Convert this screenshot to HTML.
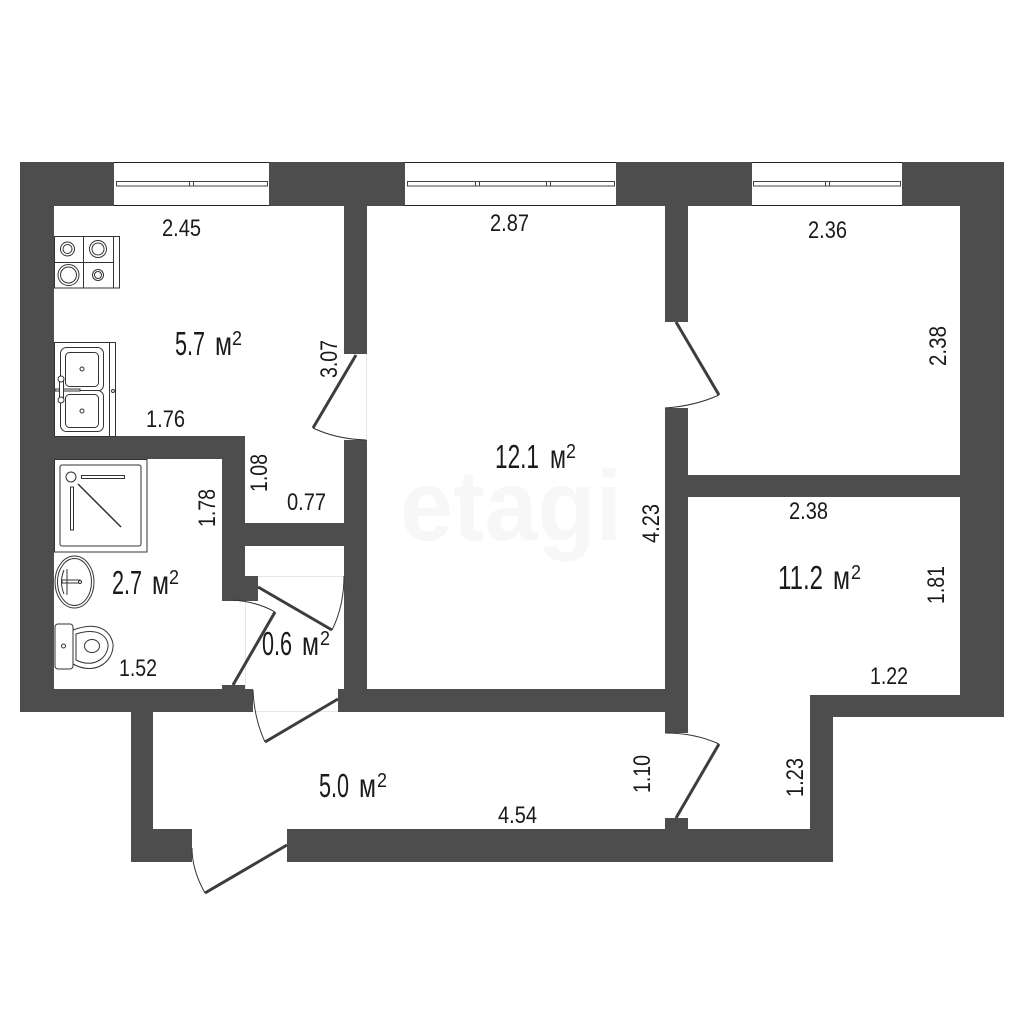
<!DOCTYPE html>
<html>
<head>
<meta charset="utf-8">
<style>
html,body{margin:0;padding:0;background:#fff;width:1024px;height:1024px;overflow:hidden}
svg{display:block}
text{font-family:"Liberation Sans Narrow","Liberation Sans",sans-serif;fill:#1a1a1a}
.s{font-size:24px}
.b{font-size:33px}
.u{font-size:20px}
</style>
</head>
<body>
<svg width="1024" height="1024" viewBox="0 0 1024 1024" xmlns="http://www.w3.org/2000/svg">
<rect width="1024" height="1024" fill="#fff"/>

<!-- watermark -->
<text x="400" y="540" style="font-family:'Liberation Sans',sans-serif;font-weight:bold;font-size:100px;fill:#f7f7f7" textLength="222" lengthAdjust="spacingAndGlyphs">etagi</text>

<!-- faint guides -->
<g stroke="#e6e6e6" stroke-width="1" fill="none">
<path d="M366.500 354V440M245.500 576V690M245 576.500H344M253 711.500H338"/>
</g>

<!-- walls -->
<g fill="#4d4d4d">
<rect x="20" y="162" width="94" height="44"/>
<rect x="269" y="162" width="136" height="44"/>
<rect x="616" y="162" width="136" height="44"/>
<rect x="902" y="162" width="102" height="44"/>
<rect x="20" y="162" width="34" height="550"/>
<rect x="960" y="162" width="44" height="555"/>
<rect x="810" y="695" width="194" height="22"/>
<rect x="810" y="695" width="23" height="167"/>
<rect x="287" y="829" width="546" height="33"/>
<rect x="665" y="818" width="23" height="12"/>
<rect x="665" y="206" width="23" height="116"/>
<rect x="665" y="408" width="23" height="325"/>
<rect x="688" y="475" width="272" height="22"/>
<rect x="338" y="689" width="327" height="23"/>
<rect x="344" y="206" width="23" height="148"/>
<rect x="344" y="440" width="23" height="272"/>
<rect x="54" y="436" width="191" height="23"/>
<rect x="222" y="436" width="23" height="165"/>
<rect x="222" y="576" width="36" height="25"/>
<rect x="245" y="523" width="99" height="23"/>
<rect x="20" y="689" width="233" height="23"/>
<rect x="222" y="685" width="23" height="5"/>
<rect x="131" y="712" width="22" height="150"/>
<rect x="131" y="829" width="61" height="33"/>
</g>

<!-- windows -->
<g fill="none" stroke="#222" stroke-width="1">
<path d="M114 162.500H269M114 205.500H269"/>
<path d="M405 162.500H616M405 205.500H616"/>
<path d="M752 162.500H902M752 205.500H902"/>
</g>
<g fill="#fff" stroke="#444" stroke-width="1">
<rect x="116.500" y="181.500" width="151" height="4.500"/>
<rect x="189.500" y="181.500" width="4" height="4.500"/>
<rect x="407.500" y="181.500" width="207" height="4.500"/>
<rect x="475.500" y="181.500" width="4" height="4.500"/>
<rect x="546.500" y="181.500" width="4" height="4.500"/>
<rect x="753.500" y="181.500" width="147" height="4.500"/>
<rect x="825.500" y="181.500" width="4" height="4.500"/>
</g>

<!-- door leaves -->
<g stroke="#3d3d3d" stroke-width="3" fill="none" stroke-linecap="butt">
<path d="M356 355L313 428"/>
<path d="M676 322L719 395"/>
<path d="M233 685L275 612"/>
<path d="M258 587L332 630"/>
<path d="M338 699L265 742"/>
<path d="M287 845L205 893"/>
<path d="M676 818L719 744"/>
</g>
<!-- door arcs -->
<g stroke="#333" stroke-width="1" fill="none">
<path d="M313 428Q336 439 366 440"/>
<path d="M719 395Q695 406 665 408"/>
<path d="M275 612Q258 602 233 600"/>
<path d="M332 630Q344 606 344 576"/>
<path d="M265 742Q254 718 253 690"/>
<path d="M205 893Q192 870 192 848"/>
<path d="M719 744Q695 733 665 733"/>
</g>

<!-- fixtures -->
<g fill="#fff" stroke="#333" stroke-width="1">
<!-- stove -->
<rect x="54.500" y="236.500" width="65" height="51.500"/>
<path d="M113.500 236V288M83.500 236V288M54 262.500H113" fill="none"/>
<circle cx="67.500" cy="249" r="7"/><circle cx="67.500" cy="249" r="4.500"/>
<circle cx="98" cy="249" r="8.500"/><circle cx="98" cy="249" r="6"/>
<circle cx="68.500" cy="275" r="10.500"/><circle cx="68.500" cy="275" r="8"/>
<circle cx="98" cy="275" r="5.500"/><circle cx="98" cy="275" r="3.500"/>
<!-- sink -->
<rect x="54.500" y="342.500" width="61" height="94"/>
<path d="M109.500 342V437" fill="none"/>
<rect x="60.500" y="347.500" width="43" height="43.500" rx="6"/>
<rect x="65.500" y="352.500" width="33" height="34" rx="4"/>
<rect x="60.500" y="390.500" width="43" height="41" rx="6"/>
<rect x="65.500" y="394.500" width="33" height="33" rx="4"/>
<circle cx="82" cy="369" r="2"/><circle cx="82" cy="411" r="2"/>
<circle cx="113" cy="391" r="1.500"/>
<path d="M55 389H80V391H55Z"/>
<rect x="59.500" y="379" width="4" height="21"/>
<circle cx="61" cy="379" r="3"/><circle cx="61" cy="400" r="3"/>
<!-- shower -->
<rect x="54.500" y="459.500" width="92.500" height="92.500"/>
<rect x="60" y="465" width="81" height="81" rx="2"/>
<circle cx="71" cy="477" r="5"/>
<rect x="81.500" y="475.500" width="43" height="3"/>
<rect x="70.500" y="487" width="3" height="43"/>
<path d="M78 484L121 527" stroke-width="1.500" fill="none"/>
<!-- basin -->
<ellipse cx="74.500" cy="582" rx="19.500" ry="26"/>
<ellipse cx="74.500" cy="582" rx="17" ry="23.500"/>
<path d="M62 580H80V583H62ZM64 570Q59 582 64 594M67 569V595" fill="none"/>
<circle cx="80" cy="582" r="1.500"/>
<!-- toilet -->
<path d="M73 630C108 617 114 642 113 647C112 662 95 676 73 664Z"/>
<path d="M76 634C102 626 109 640 108 647C106 660 92 668 76 660Z"/>
<ellipse cx="92" cy="646" rx="7.500" ry="6.500"/>
<rect x="55" y="624" width="18" height="45" rx="3"/>
<circle cx="63.500" cy="646" r="2"/>
</g>

<!-- horizontal labels -->
<g class="s">
<text x="162" y="236" textLength="39" lengthAdjust="spacingAndGlyphs">2.45</text>
<text x="490" y="231" textLength="39" lengthAdjust="spacingAndGlyphs">2.87</text>
<text x="808" y="238" textLength="39" lengthAdjust="spacingAndGlyphs">2.36</text>
<text x="146" y="427" textLength="39" lengthAdjust="spacingAndGlyphs">1.76</text>
<text x="287" y="510" textLength="39" lengthAdjust="spacingAndGlyphs">0.77</text>
<text x="119" y="676" textLength="38" lengthAdjust="spacingAndGlyphs">1.52</text>
<text x="789" y="519" textLength="39" lengthAdjust="spacingAndGlyphs">2.38</text>
<text x="870" y="684" textLength="38" lengthAdjust="spacingAndGlyphs">1.22</text>
<text x="498" y="823" textLength="39" lengthAdjust="spacingAndGlyphs">4.54</text>
</g>

<!-- rotated labels -->
<g class="s">
<text transform="translate(946 366) rotate(-90)" textLength="40" lengthAdjust="spacingAndGlyphs">2.38</text>
<text transform="translate(337 378) rotate(-90)" textLength="38" lengthAdjust="spacingAndGlyphs">3.07</text>
<text transform="translate(267 492) rotate(-90)" textLength="38" lengthAdjust="spacingAndGlyphs">1.08</text>
<text transform="translate(215 527) rotate(-90)" textLength="38" lengthAdjust="spacingAndGlyphs">1.78</text>
<text transform="translate(659 543) rotate(-90)" textLength="39" lengthAdjust="spacingAndGlyphs">4.23</text>
<text transform="translate(944 604) rotate(-90)" textLength="38" lengthAdjust="spacingAndGlyphs">1.81</text>
<text transform="translate(650 793) rotate(-90)" textLength="38" lengthAdjust="spacingAndGlyphs">1.10</text>
<text transform="translate(803 797) rotate(-90)" textLength="39" lengthAdjust="spacingAndGlyphs">1.23</text>
</g>

<!-- area labels -->
<g class="b">
<text x="175" y="355" textLength="30" lengthAdjust="spacingAndGlyphs">5.7</text>
<text x="215" y="355" textLength="17" lengthAdjust="spacingAndGlyphs">м</text>
<text x="112" y="594" textLength="30" lengthAdjust="spacingAndGlyphs">2.7</text>
<text x="152" y="594" textLength="17" lengthAdjust="spacingAndGlyphs">м</text>
<text x="262" y="655" textLength="30" lengthAdjust="spacingAndGlyphs">0.6</text>
<text x="302" y="655" textLength="17" lengthAdjust="spacingAndGlyphs">м</text>
<text x="319" y="797" textLength="30" lengthAdjust="spacingAndGlyphs">5.0</text>
<text x="359" y="797" textLength="17" lengthAdjust="spacingAndGlyphs">м</text>
<text x="495" y="468" textLength="44" lengthAdjust="spacingAndGlyphs">12.1</text>
<text x="550" y="468" textLength="16" lengthAdjust="spacingAndGlyphs">м</text>
<text x="778" y="589" textLength="45" lengthAdjust="spacingAndGlyphs">11.2</text>
<text x="833" y="589" textLength="17" lengthAdjust="spacingAndGlyphs">м</text>
</g>
<g class="u">
<text x="232" y="345" textLength="10" lengthAdjust="spacingAndGlyphs">2</text>
<text x="169" y="584" textLength="10" lengthAdjust="spacingAndGlyphs">2</text>
<text x="320" y="645" textLength="10" lengthAdjust="spacingAndGlyphs">2</text>
<text x="377" y="787" textLength="10" lengthAdjust="spacingAndGlyphs">2</text>
<text x="566" y="458" textLength="10" lengthAdjust="spacingAndGlyphs">2</text>
<text x="851" y="579" textLength="10" lengthAdjust="spacingAndGlyphs">2</text>
</g>
</svg>
</body>
</html>
